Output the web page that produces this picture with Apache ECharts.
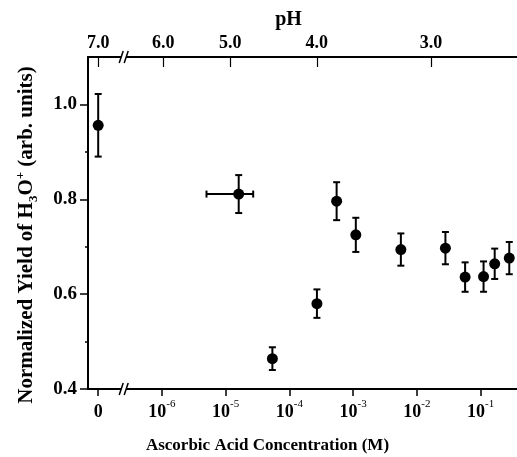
<!DOCTYPE html>
<html><head><meta charset="utf-8">
<script src="https://cdn.jsdelivr.net/npm/echarts@6/dist/echarts.min.js"></script>
<style>html,body{margin:0;padding:0;background:#fff}#c{width:517px;height:457px}</style>
</head><body><div id="c"></div><script>
// ---- data ----
const concentration = [0, 1.6e-5, 5.4e-5, 2.7e-4, 5.5e-4, 1.1e-3, 5.6e-3, 0.028, 0.057, 0.111, 0.166, 0.281];
const yieldValues   = [0.956, 0.811, 0.464, 0.580, 0.796, 0.725, 0.694, 0.697, 0.636, 0.637, 0.664, 0.676];
const yieldErrors   = [0.066, 0.040, 0.024, 0.030, 0.040, 0.036, 0.034, 0.034, 0.031, 0.032, 0.032, 0.034];
const concErrors    = [0, 1.1e-5, 0, 0, 0, 0, 0, 0, 0, 0, 0, 0];
const xTickPositions = [-7, -6, -5, -4, -3, -2, -1];
const xTickExponents = [null, '-6', '-5', '-4', '-3', '-2', '-1'];
const phTickPositions = [-7, -5.98, -4.93, -3.57, -1.78];
const phTickLabels = ['7.0', '6.0', '5.0', '4.0', '3.0'];
const yMajorTicks = [0.4, 0.6, 0.8, 1.0];
const yMinorTicks = [0.5, 0.7, 0.9];
const ZERO_POS = -7;     // axis position used for zero concentration (left of the break)
const BREAK_POS = -6.6;  // axis break location

function toPos(c) { return c === 0 ? ZERO_POS : Math.log10(c); }
function idxOf(arr, v) { let b = 0; for (let i = 0; i < arr.length; i++) if (Math.abs(arr[i] - v) < Math.abs(arr[b] - v)) b = i; return b; }

const FONT = 'Liberation Serif';
const chart = echarts.init(document.getElementById('c'), null, { renderer: 'canvas' });

const points = concentration.map((c, i) => [toPos(c), yieldValues[i]]);
const errData = concentration.map((c, i) => [
  toPos(c), yieldValues[i], yieldValues[i] - yieldErrors[i], yieldValues[i] + yieldErrors[i],
  concErrors[i] > 0 ? toPos(c - concErrors[i]) : toPos(c),
  concErrors[i] > 0 ? toPos(c + concErrors[i]) : toPos(c)
]);

const option = {
  animation: false,
  backgroundColor: '#fff',
  grid: { left: 88, right: 0, top: 57, bottom: 68, containLabel: false },
  xAxis: [
    {
      type: 'value', position: 'bottom', min: -7.16, max: -0.43,
      axisLine: { lineStyle: { color: '#000', width: 2 } },
      axisTick: { customValues: xTickPositions, length: 7, lineStyle: { color: '#000', width: 1.5 } },
      axisLabel: {
        customValues: xTickPositions, margin: 10,
        formatter: v => { const e = xTickExponents[idxOf(xTickPositions, v)]; return e === null ? '{b|0}' : '{b|10}{s|' + e + '}'; },
        rich: {
          b: { fontFamily: FONT, fontWeight: 'bold', fontSize: 18, color: '#000', verticalAlign: 'bottom', lineHeight: 22 },
          s: { fontFamily: FONT, fontSize: 11, color: '#000', verticalAlign: 'top', lineHeight: 22 }
        }
      },
      splitLine: { show: false }
    },
    {
      type: 'value', position: 'top', min: -7.16, max: -0.43,
      axisLine: { lineStyle: { color: '#000', width: 2 } },
      axisTick: { customValues: phTickPositions, inside: true, length: 10, lineStyle: { color: '#000', width: 1.2 } },
      axisLabel: {
        customValues: phTickPositions, margin: 5,
        formatter: v => phTickLabels[idxOf(phTickPositions, v)],
        fontFamily: FONT, fontWeight: 'bold', fontSize: 18, color: '#000'
      },
      splitLine: { show: false }
    }
  ],
  yAxis: [
    {
      type: 'value', position: 'left', min: 0.4, max: 1.1,
      axisLine: { show: true, lineStyle: { color: '#000', width: 2 } },
      axisTick: { show: true, customValues: yMajorTicks, length: 8, lineStyle: { color: '#000', width: 1.5 } },
      axisLabel: {
        customValues: yMajorTicks, margin: 11, formatter: v => v.toFixed(1),
        fontFamily: FONT, fontWeight: 'bold', fontSize: 19, color: '#000'
      },
      splitLine: { show: false },
      name: '{t|Normalized Yield of H}{sub|3}{t|O}{sup|+}{t| (arb. units)}',
      nameLocation: 'middle', nameRotate: 90, nameGap: 48,
      nameTextStyle: {
        padding: [0, 24, 0, 0],
        rich: {
          t: { fontFamily: FONT, fontWeight: 'bold', fontSize: 21, color: '#000', lineHeight: 26, verticalAlign: 'middle' },
          sub: { fontFamily: FONT, fontWeight: 'bold', fontSize: 13, color: '#000', lineHeight: 26, verticalAlign: 'bottom' },
          sup: { fontFamily: FONT, fontWeight: 'bold', fontSize: 13, color: '#000', lineHeight: 26, verticalAlign: 'top' }
        }
      }
    },
    {
      type: 'value', position: 'left', min: 0.4, max: 1.1,
      axisLine: { show: false },
      axisTick: { show: true, customValues: yMinorTicks, length: 3, lineStyle: { color: '#000', width: 1.5 } },
      axisLabel: { show: false },
      splitLine: { show: false }
    }
  ],
  series: [
    {
      type: 'custom', xAxisIndex: 0, yAxisIndex: 0, data: errData, clip: false, z: 2,
      renderItem: (params, api) => {
        const x = api.value(0), y = api.value(1);
        const c = api.coord([x, y]);
        const lo = api.coord([x, api.value(2)]);
        const hi = api.coord([x, api.value(3)]);
        const xl = api.coord([api.value(4), y]);
        const xr = api.coord([api.value(5), y]);
        const cap = 3.5;
        const st = { stroke: '#000', lineWidth: 2 };
        const ch = [
          { type: 'line', shape: { x1: c[0], y1: lo[1], x2: c[0], y2: hi[1] }, style: st },
          { type: 'line', shape: { x1: c[0] - cap, y1: lo[1], x2: c[0] + cap, y2: lo[1] }, style: st },
          { type: 'line', shape: { x1: c[0] - cap, y1: hi[1], x2: c[0] + cap, y2: hi[1] }, style: st }
        ];
        if (xr[0] - xl[0] > 1) {
          ch.push({ type: 'line', shape: { x1: xl[0], y1: c[1], x2: xr[0], y2: c[1] }, style: st });
          ch.push({ type: 'line', shape: { x1: xl[0], y1: c[1] - cap, x2: xl[0], y2: c[1] + cap }, style: st });
          ch.push({ type: 'line', shape: { x1: xr[0], y1: c[1] - cap, x2: xr[0], y2: c[1] + cap }, style: st });
        }
        return { type: 'group', children: ch };
      }
    },
    {
      type: 'scatter', xAxisIndex: 0, yAxisIndex: 0, data: points, symbol: 'circle', symbolSize: 11,
      itemStyle: { color: '#000', opacity: 1 }, z: 3
    }
  ]
};
chart.setOption(option);

// axis-break marks and titles, placed through the chart's own scales
const bx = chart.convertToPixel({ xAxisIndex: 0 }, BREAK_POS);
const yTop = chart.convertToPixel({ yAxisIndex: 0 }, 1.1);
const yBot = chart.convertToPixel({ yAxisIndex: 0 }, 0.4);
const gridMidX = (chart.convertToPixel({ xAxisIndex: 0 }, -7.16) + chart.convertToPixel({ xAxisIndex: 0 }, -0.43)) / 2;
function breakMark(yc) {
  return [
    { type: 'rect', shape: { x: bx - 2.5, y: yc - 3, width: 5, height: 6 }, style: { fill: '#fff' }, z: 100 },
    { type: 'line', shape: { x1: bx - 4.5, y1: yc + 6, x2: bx - 0.5, y2: yc - 6 }, style: { stroke: '#000', lineWidth: 1.5 }, z: 101 },
    { type: 'line', shape: { x1: bx + 0.5, y1: yc + 6, x2: bx + 4.5, y2: yc - 6 }, style: { stroke: '#000', lineWidth: 1.5 }, z: 101 }
  ];
}
chart.setOption({
  graphic: [
    ...breakMark(yTop), ...breakMark(yBot),
    { type: 'text', x: gridMidX - 14, y: 20, style: { text: 'pH', font: 'bold 20px "Liberation Serif"', fill: '#000', align: 'center', verticalAlign: 'middle' }, z: 100 },
    { type: 'text', x: gridMidX - 35, y: 446, style: { text: 'Ascorbic Acid Concentration (M)', font: 'bold 17px "Liberation Serif"', fill: '#000', align: 'center', verticalAlign: 'middle' }, z: 100 }
  ]
});
</script></body></html>
